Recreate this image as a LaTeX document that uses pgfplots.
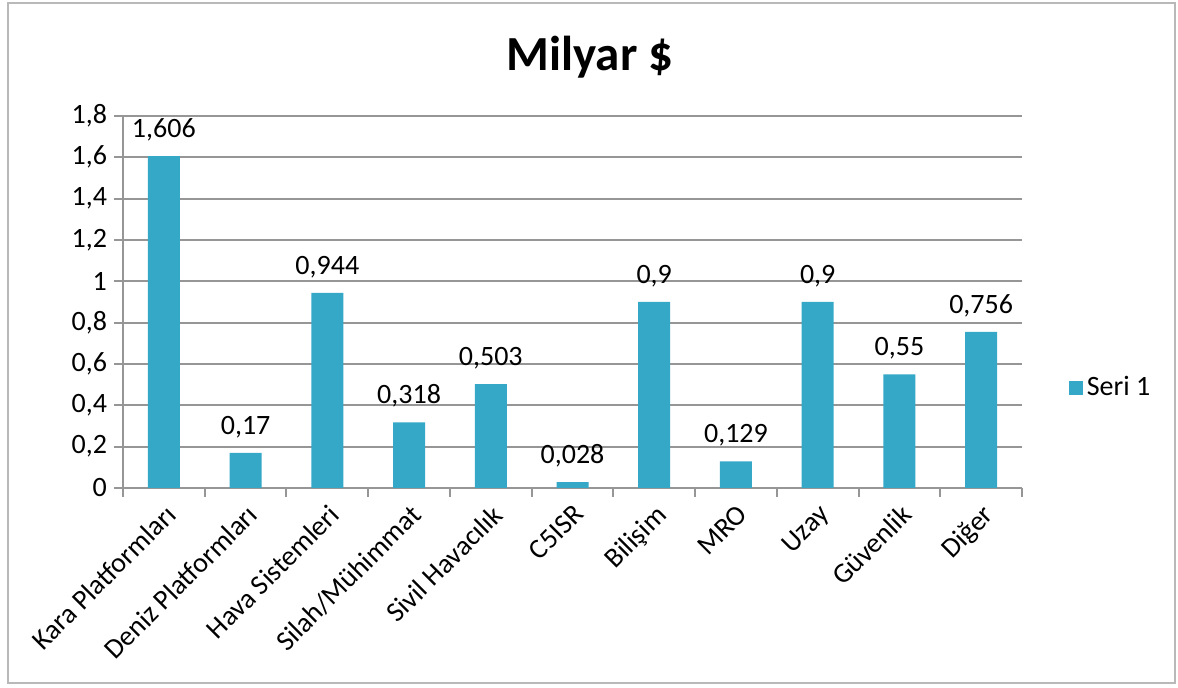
\documentclass[border=0pt]{standalone}
\usepackage{fontspec}
\setmainfont{Carlito}
\usepackage{pgfplots}
\usepackage{pgfplotstable}
\pgfplotsset{compat=1.18}

\definecolor{barblue}{RGB}{52,168,198}
\definecolor{gridgray}{RGB}{150,150,150}
\definecolor{framegray}{RGB}{185,185,185}

% sektör, milyar $
\pgfplotstableread{
idx value
0 1.606
1 0.17
2 0.944
3 0.318
4 0.503
5 0.028
6 0.9
7 0.129
8 0.9
9 0.55
10 0.756
}\sektorler

\begin{document}
\begin{tikzpicture}
\path[use as bounding box] (0,0) rectangle (589pt,344pt);
\draw[framegray, line width=1pt] (4pt,2.5pt) rectangle (587.5pt,342.5pt);
\node[font=\fontsize{24.5}{28}\selectfont\bfseries] at (295pt,315.5pt) {Milyar \$};
\begin{axis}[
    at={(61.5pt,100pt)}, anchor=south west,
    scale only axis,
    width=449.5pt, height=186pt,
    ybar, bar width=16pt,
    xmin=-0.5, xmax=10.5,
    ymin=0, ymax=1.8,
    ytick={0,0.2,0.4,0.6,0.8,1,1.2,1.4,1.6,1.8},
    xtick={0,1,2,3,4,5,6,7,8,9,10},
    xticklabels={Kara Platformları, Deniz Platformları, Hava Sistemleri, Silah/Mühimmat, Sivil Havacılık, C5ISR, Bilişim, MRO, Uzay, Güvenlik, Diğer},
    xticklabel style={rotate=45, anchor=north east, font=\fontsize{14}{16}\selectfont, inner sep=2pt},
    yticklabel style={font=\fontsize{14}{16}\selectfont},
    minor xtick={-0.5,0.5,1.5,2.5,3.5,4.5,5.5,6.5,7.5,8.5,9.5,10.5},
    major x tick style={draw=none},
    minor x tick style={draw=gridgray, line width=1pt},
    minor tick length=4.5pt,
    axis lines*=left,
    axis line style={gridgray, line width=1pt, -},
    tick align=outside,
    major tick length=4.5pt,
    ytick style={gridgray, line width=1pt},
    ymajorgrids,
    grid style={gridgray, line width=1pt},
    /pgf/number format/.cd, use comma, fixed, precision=1, assume math mode=true,
    /pgfplots/.cd,
    nodes near coords={\pgfmathprintnumber[fixed,precision=3,use comma,assume math mode=true]{\pgfplotspointmeta}},
    every node near coord/.append style={font=\fontsize{14}{16}\selectfont, yshift=4pt, black},
    legend style={at={(1.045,0.27)}, anchor=west, draw=none, fill=none, font=\fontsize{14}{16}\selectfont},
]
\addplot[fill=barblue, draw=none,
    legend image code/.code={\fill[barblue] (0pt,-3.5pt) rectangle (7pt,3.5pt);}]
    table[x=idx, y=value] {\sektorler};
\addlegendentry{Seri 1}
\end{axis}
\end{tikzpicture}
\end{document}
